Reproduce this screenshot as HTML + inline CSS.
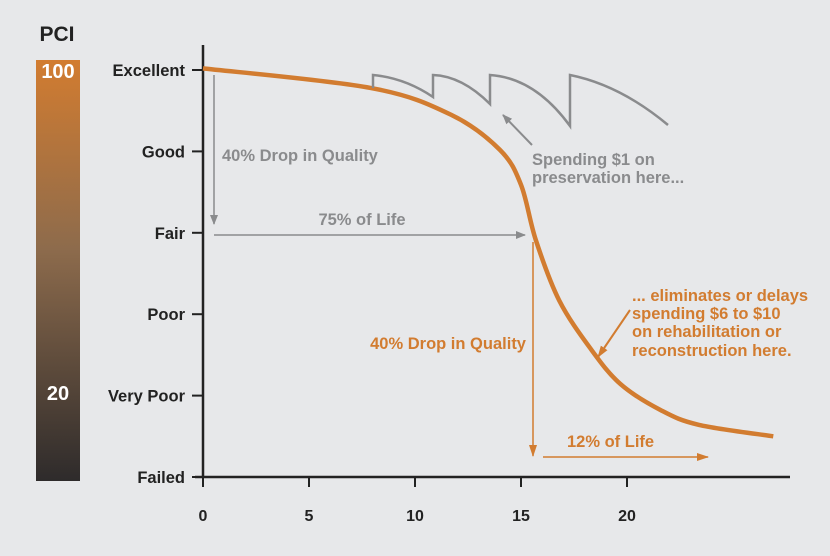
<!DOCTYPE html>
<html><head><meta charset="utf-8"><style>
html,body{margin:0;padding:0;background:#e7e8ea;}
svg{display:block;font-family:"Liberation Sans",sans-serif;font-weight:bold;}
</style></head><body>
<svg id="c" width="830" height="556" viewBox="0 0 830 556">
<defs>
<linearGradient id="g" x1="0" y1="0" x2="0" y2="1">
<stop offset="0" stop-color="#d27c30"/><stop offset="0.45" stop-color="#8d6b4c"/><stop offset="1" stop-color="#2e2b2b"/>
</linearGradient>
<marker id="ag" markerWidth="10" markerHeight="10" refX="9" refY="5" orient="auto" markerUnits="userSpaceOnUse"><path d="M0,1 L10,5 L0,9 Z" fill="#8a8b8d"/></marker>
<marker id="ao" markerWidth="12" markerHeight="10" refX="11" refY="5" orient="auto" markerUnits="userSpaceOnUse"><path d="M0,1 L12,5 L0,9 Z" fill="#d27c30"/></marker>
</defs>
<text x="57" y="41" font-size="21" fill="#222" text-anchor="middle">PCI</text>
<rect x="36" y="60" width="44" height="421" fill="url(#g)"/>
<text x="58" y="78" font-size="20" fill="#fff" text-anchor="middle">100</text>
<text x="58" y="400" font-size="20" fill="#fff" text-anchor="middle">20</text>
<g id="axes"></g>
<g id="marks"></g>
<g font-size="16.5">
<text x="222" y="161" fill="#8a8b8d">40% Drop in Quality</text>
<text x="362" y="225" fill="#8a8b8d" text-anchor="middle">75% of Life</text>
<text x="532" y="165" fill="#8a8b8d">Spending $1 on</text>
<text x="532" y="183" fill="#8a8b8d">preservation here...</text>
<text x="526" y="349" fill="#d27c30" text-anchor="end">40% Drop in Quality</text>
<text x="567" y="447" fill="#d27c30">12% of Life</text>
<text x="632" y="301" fill="#d27c30">... eliminates or delays</text>
<text x="632" y="319" fill="#d27c30">spending $6 to $10</text>
<text x="632" y="337" fill="#d27c30">on rehabilitation or</text>
<text x="632" y="356" fill="#d27c30">reconstruction here.</text>
</g>
</svg>
<script>
const categories=["Failed","Very Poor","Poor","Fair","Good","Excellent"];
const xTicks=[0,5,10,15,20];
const years=[0,7.9,11.7,14.0,15.0,15.7,16.8,18.3,19.7,21.6,23.4,26.9];
const condition=[5.02,4.78,4.45,4.02,3.59,2.91,2.17,1.57,1.14,0.82,0.64,0.5];
const NS="http://www.w3.org/2000/svg";
const X=v=>203+v*21.2, Y=v=>477-v*81.4;
function mk(t,a,p){const e=document.createElementNS(NS,t);for(const k in a)e.setAttribute(k,a[k]);p.appendChild(e);return e;}
const ax=document.getElementById('axes'), mg=document.getElementById('marks');
let e=mk('line',{x1:203,y1:45,x2:203,y2:477,stroke:'#222','stroke-width':2.5},ax);


e=mk('line',{x1:195,y1:477,x2:790,y2:477,stroke:'#222','stroke-width':2.5},ax);


categories.forEach((c,i)=>{
  mk('line',{x1:192,y1:Y(i),x2:203,y2:Y(i),stroke:'#222','stroke-width':2},ax);
  const t=mk('text',{x:185,y:Y(i)+6,'font-size':16.5,'text-anchor':'end',fill:'#222'},ax);t.textContent=c;
  
  
});
xTicks.forEach(v=>{
  mk('line',{x1:X(v),y1:477,x2:X(v),y2:487,stroke:'#222','stroke-width':2},ax);
  const t=mk('text',{x:X(v),y:521,'font-size':16,'text-anchor':'middle',fill:'#222'},ax);t.textContent=v;
  
  
});
const pts=years.map((y,i)=>[X(y),Y(condition[i])]);
let d=`M${pts[0][0]},${pts[0][1]}`;
for(let i=0;i<pts.length-1;i++){const p0=pts[Math.max(0,i-1)],p1=pts[i],p2=pts[i+1],p3=pts[Math.min(pts.length-1,i+2)];
d+=` C${p1[0]+(p2[0]-p0[0])/6},${p1[1]+(p2[1]-p0[1])/6} ${p2[0]-(p3[0]-p1[0])/6},${p2[1]-(p3[1]-p1[1])/6} ${p2[0]},${p2[1]}`;}
e=mk('path',{d:d,fill:'none',stroke:'#d27c30','stroke-width':4.5},mg);


e=mk('path',{d:'M373,88 L373,75 Q405,78 433,97 L433,75 Q462,76 490,104 L490,75 Q535,78 570,126 L570,75 Q620,85 668,125',fill:'none',stroke:'#8a8b8d','stroke-width':2.5},mg);


const arrows=[[214,75,214,224,'ag',1.5,'gray-drop-arrow'],[214,235,525,235,'ag',1.5,'gray-life-arrow'],[532,145,503,115,'ag',2,'preservation-arrow'],
[533,242,533,456,'ao',1.5,'orange-drop-arrow'],[543,457,708,457,'ao',1.5,'orange-life-arrow'],[630,310,598,357,'ao',2,'rehab-arrow']];
arrows.forEach(a=>{const l=mk('line',{x1:a[0],y1:a[1],x2:a[2],y2:a[3],stroke:a[4]=='ag'?'#8a8b8d':'#d27c30','stroke-width':a[5],'marker-end':`url(#${a[4]})`},mg);

});
</script>
</body></html>
